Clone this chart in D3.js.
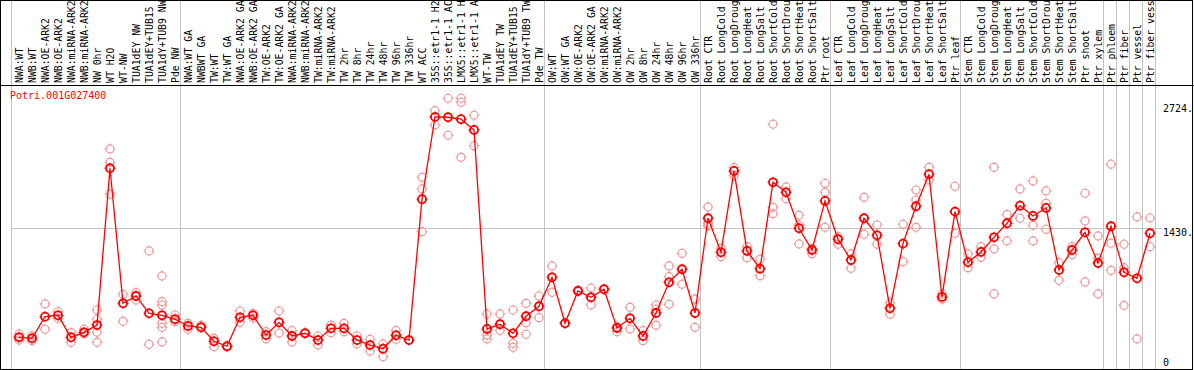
<!DOCTYPE html>
<html>
<head>
<meta charset="utf-8">
<script src="https://cdn.jsdelivr.net/npm/d3@7"></script>
<style>
body { margin: 0; background: #fff; }
svg { display: block; }
text { font-family: "DejaVu Sans Mono", monospace; font-size: 10px; }
text.lab { font-size: 9.8px; }
</style>
</head>
<body>
<svg></svg>
<script>
// sample names, one per column (as far as the header shows them)
var labels = ["NWA:WT", "NWB:WT", "NWA:OE-ARK2", "NWB:OE-ARK2", "NWA:miRNA-ARK2", "NWB:miRNA-ARK2",
  "NW 0hr", "WT H2O", "WT-NW", "TUA1dEY NW", "TUA1dEY+TUB15", "TUA1dY+TUB9 NW", "Pde NW",
  "NWA:WT GA", "NWBWT GA", "TW:WT", "TW:WT GA", "NWA:OE-ARK2 GA", "NWB:OE-ARK2 GA", "TW:OE-ARK2",
  "TW:OE-ARK2 GA", "NWA:miRNA-ARK2", "NWB:miRNA-ARK2", "TW:miRNA-ARK2", "TW:miRNA-ARK2",
  "TW 2hr", "TW 8hr", "TW 24hr", "TW 48hr", "TW 96hr", "TW 336hr", "WT ACC",
  "35S::etr1-1 H2", "35S::etr1-1 AC", "LMX5::etr1-1 H", "LMX5::etr1-1 A",
  "WT-TW", "TUA1dEY TW", "TUA1dEY+TUB15", "TUA1dY+TUB9 TW", "Pde TW",
  "OW:WT", "OW:WT GA", "OW:OE-ARK2", "OW:OE-ARK2 GA", "OW:miRNA-ARK2", "OW:miRNA-ARK2",
  "OW 2hr", "OW 8hr", "OW 24hr", "OW 48hr", "OW 96hr", "OW 336hr",
  "Root CTR", "Root LongCold", "Root LongDroug", "Root LongHeat", "Root LongSalt",
  "Root ShortCold", "Root ShortDrou", "Root ShortHeat", "Root ShortSalt", "Ptr root",
  "Leaf CTR", "Leaf LongCold", "Leaf LongDroug", "Leaf LongHeat", "Leaf LongSalt",
  "Leaf ShortCold", "Leaf ShortDrou", "Leaf ShortHeat", "Leaf ShortSalt", "Ptr leaf",
  "Stem CTR", "Stem LongCold", "Stem LongDroug", "Stem LongHeat", "Stem LongSalt",
  "Stem ShortCold", "Stem ShortDrou", "Stem ShortHeat", "Stem ShortSalt", "Ptr shoot",
  "Ptr xylem", "Ptr phloem", "Ptr fiber", "Ptr vessel", "Ptr fiber vess"];

// mean expression per sample
var means = [298, 288, 513, 527, 298, 350, 426, 2056, 652, 728, 548, 527, 486,
  416, 402, 257, 205, 506, 527, 322, 454, 312, 340, 270, 392, 392, 270, 218, 180, 319, 270,
  1734, 2590, 2586, 2566, 2454, 385, 434, 340, 517, 621,
  922, 444, 780, 714, 798, 395, 496, 312, 551, 870, 1006, 551,
  1536, 1182, 2028, 1196, 1012, 1910, 1806, 1432, 1206, 1716,
  1318, 1102, 1536, 1359, 600, 1272, 1661, 1994, 718, 1605,
  1078, 1186, 1338, 1484, 1667, 1560, 1643, 998, 1206, 1390, 1071,
  1453, 974, 912, 1380];

// individual replicates per sample
var reps = [[333, 270, 302], [312, 263], [645, 382], [565, 496], [346, 246], [382, 333],
  [582, 486, 350, 246], [2257, 2118, 1786], [746, 465], [762, 686], [1196, 226],
  [936, 669, 634, 444, 402, 250], [530, 461],
  [444, 382], [423, 402], [288, 201], [210, 200], [572, 454], [548, 499], [357, 284],
  [572, 343], [367, 250], [346], [312, 218], [426, 346], [444, 357], [312, 229],
  [278, 156], [229, 97], [367, 278], [270],
  [1962, 1841, 1397], [2655, 2506], [2784, 2399], [2784, 2742, 2170], [2607, 2291],
  [541, 322, 281], [541, 371], [582, 236, 194], [652, 450, 330], [728, 502],
  [1040, 766], [450], [790], [811, 634], [798], [409, 357], [610, 385], [367, 263],
  [634, 590, 423], [1040, 929, 642], [1172, 850], [697, 402],
  [1654, 1484, 1459], [1224, 1137], [2062, 1979], [1241, 1126], [1110, 939],
  [2514, 1650, 1584], [1862, 1740], [1567, 1466, 1269], [1220, 1168], [1900, 1806, 1442],
  [1345, 1266], [1165, 1016], [1754, 1370], [1466, 1266], [658, 538], [1474, 1085],
  [1830, 1726, 1442], [2066, 1934], [749, 694], [1869, 1380],
  [1165, 1022], [1241, 1130], [2066, 1217, 749], [1574, 1300], [1841, 1536],
  [1924, 1463, 1300], [1820, 1692, 1422], [1074, 891], [1241, 1158], [1796, 1508, 874],
  [1352, 1120, 749],
  [2098, 1276, 995], [1266, 1022, 631], [1550, 281], [1539, 1241]];

// column counts after which a group ends
var groupEnds = [0, 13, 41, 53, 63, 73, 84, 85, 86, 87, 88];
var axisTicks = [0, 1430, 2724];
var geneName = "Potri.001G027400";

var width = 1194, height = 370;
var svg = d3.select("svg").attr("width", width).attr("height", height);

var x = d3.scaleBand().domain(d3.range(labels.length)).range([11, 1155]);
var y = d3.scaleLinear().domain([0, 2724]).range([366, 104]);
var px = function(i) { return x(i) + 8; };

var grey = "#c4c4c4";

// group separators
svg.selectAll("line.sep")
  .data(groupEnds)
  .enter().append("line")
  .attr("class", "sep")
  .attr("x1", function(d) { return d < labels.length ? x(d) + 0.5 : 1155.5; })
  .attr("x2", function(d) { return d < labels.length ? x(d) + 0.5 : 1155.5; })
  .attr("y1", 0).attr("y2", 370)
  .attr("stroke", grey);

// grid line
svg.append("line")
  .attr("x1", 11).attr("x2", 1162)
  .attr("y1", Math.round(y(1430)) + 0.5).attr("y2", Math.round(y(1430)) + 0.5)
  .attr("stroke", grey);

// column labels
svg.selectAll("text.lab")
  .data(labels)
  .enter().append("text")
  .attr("class", "lab")
  .attr("transform", function(d, i) { return "translate(" + (x(i) + 12) + ",83) rotate(-90)"; })
  .text(function(d) { return d; });

// frame
svg.append("rect")
  .attr("x", 0.5).attr("y", 0.5)
  .attr("width", 1192).attr("height", 369)
  .attr("fill", "none").attr("stroke", "#000");
svg.append("line")
  .attr("x1", 0).attr("x2", width)
  .attr("y1", 85.5).attr("y2", 85.5)
  .attr("stroke", "#000");

// right axis labels
svg.selectAll("text.tick")
  .data(axisTicks)
  .enter().append("text")
  .attr("class", "tick")
  .attr("x", 1163)
  .attr("y", function(d) { return d == 0 ? y(d) - 0.5 : y(d) + 7.5; })
  .text(function(d) { return d == 0 ? "0" : d + "."; });

svg.append("text")
  .attr("x", 10).attr("y", 99)
  .attr("fill", "#f00")
  .text(geneName);

function marker(g, cx, cy, color, sw) {
  var r = 4;
  g.append("circle")
    .attr("cx", cx).attr("cy", cy).attr("r", r)
    .attr("fill", "none").attr("stroke", color).attr("stroke-width", sw);
  g.append("path")
    .attr("d", "M" + cx + "," + (cy - r - 1.5) + "v2M" + cx + "," + (cy + r - 0.5) + "v2" +
      "M" + (cx - r - 1.5) + "," + cy + "h2M" + (cx + r - 0.5) + "," + cy + "h2")
    .attr("stroke", color).attr("stroke-width", 1);
}

// replicates
var repG = svg.append("g");
reps.forEach(function(vals, i) {
  vals.forEach(function(v) { marker(repG, px(i), y(v), "#ee9a9a", 1.2); });
});

// mean line
var line = d3.line()
  .x(function(d, i) { return px(i); })
  .y(function(d) { return y(d); });
svg.append("path")
  .datum(means)
  .attr("d", line)
  .attr("fill", "none")
  .attr("stroke", "#f00")
  .attr("stroke-width", 1.3);

var meanG = svg.append("g");
means.forEach(function(v, i) { marker(meanG, px(i), y(v), "#f00", 1.8); });
</script>
</body>
</html>
